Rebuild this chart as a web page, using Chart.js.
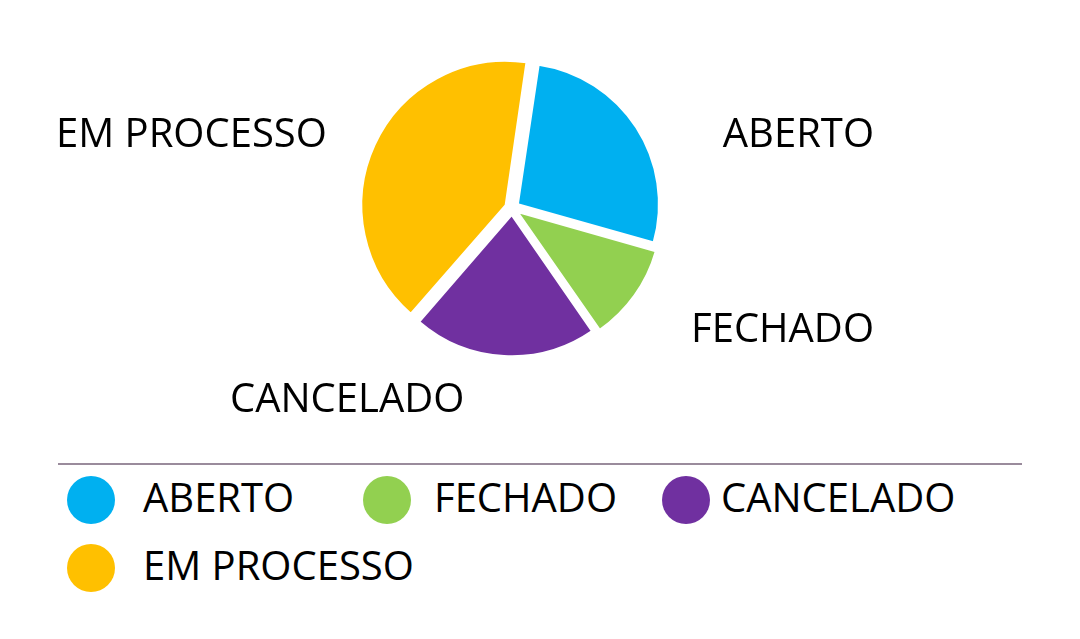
<!DOCTYPE html>
<html>
<head>
<meta charset="utf-8">
<script src="https://cdn.jsdelivr.net/npm/chart.js@4"></script>
<style>
  html, body { margin: 0; padding: 0; background: #fff; }
  body { width: 1080px; height: 639px; position: relative; overflow: hidden; font-family: "Open Sans", "Noto Sans", sans-serif; }
  #wrap { position: absolute; left: 0; top: 0; width: 1080px; height: 450px; }
  #rule { position: absolute; left: 58px; top: 463px; width: 964px; height: 2px; background: #9a8b9c; }
  .item { position: absolute; display: flex; align-items: center; height: 48px; }
  .dot { width: 48px; height: 48px; border-radius: 50%; flex: none; }
  .txt { font-size: 40px; line-height: 48px; color: #000; position: relative; top: -3px; white-space: nowrap; }
</style>
</head>
<body>
<div id="wrap"><canvas id="pie" width="1080" height="450"></canvas></div>
<div id="rule"></div>
<div id="legend"></div>
<script>
const labels = ['ABERTO', 'FECHADO', 'CANCELADO', 'EM PROCESSO'];
const values = [27, 11, 21, 41];
const colors = ['#00B0F0', '#92D050', '#7030A0', '#FFC000'];

// where the outside labels sit, relative to the pie centre
const labelSpots = [
  {dx: 362, dy: -61, align: 'right'},
  {dx: 362, dy: 134, align: 'right'},
  {dx: -282, dy: 204, align: 'left'},
  {dx: -456, dy: -61, align: 'left'}
];

// legend item boxes (left, top, gap between dot and text)
const legendSpots = [
  {x: 67, y: 476, gap: 28},
  {x: 363, y: 476, gap: 23},
  {x: 662, y: 476, gap: 11},
  {x: 67, y: 544, gap: 28}
];

const outsideLabels = {
  id: 'outsideLabels',
  afterDraw(chart) {
    const c = chart.ctx;
    const arc = chart.getDatasetMeta(0).data[0];
    const cx = arc.x, cy = arc.y;
    c.save();
    c.font = '40px "Open Sans", "Noto Sans", sans-serif';
    c.fillStyle = '#000';
    c.textBaseline = 'alphabetic';
    chart.data.labels.forEach((lab, i) => {
      const s = labelSpots[i];
      c.textAlign = s.align;
      c.fillText(lab, cx + s.dx, cy + s.dy);
    });
    c.restore();
  }
};

const chart = new Chart(document.getElementById('pie').getContext('2d'), {
  type: 'pie',
  data: {
    labels: labels,
    datasets: [{
      data: values,
      backgroundColor: colors,
      borderColor: '#fff',
      borderWidth: 2,
      offset: 28
    }]
  },
  options: {
    responsive: false,
    animation: false,
    rotation: 8.5,
    layout: { padding: { left: 356, right: 412, top: 52, bottom: 86 } },
    plugins: {
      legend: { display: false },
      tooltip: { enabled: false }
    }
  },
  plugins: [outsideLabels]
});

// html legend built from the chart's own data
const legendBox = document.getElementById('legend');
chart.data.labels.forEach((lab, i) => {
  const s = legendSpots[i];
  const item = document.createElement('div');
  item.className = 'item';
  item.style.left = s.x + 'px';
  item.style.top = s.y + 'px';
  const dot = document.createElement('span');
  dot.className = 'dot';
  dot.style.background = chart.data.datasets[0].backgroundColor[i];
  const txt = document.createElement('span');
  txt.className = 'txt';
  txt.style.marginLeft = s.gap + 'px';
  txt.textContent = lab;
  item.appendChild(dot);
  item.appendChild(txt);
  legendBox.appendChild(item);
});
</script>
</body>
</html>
